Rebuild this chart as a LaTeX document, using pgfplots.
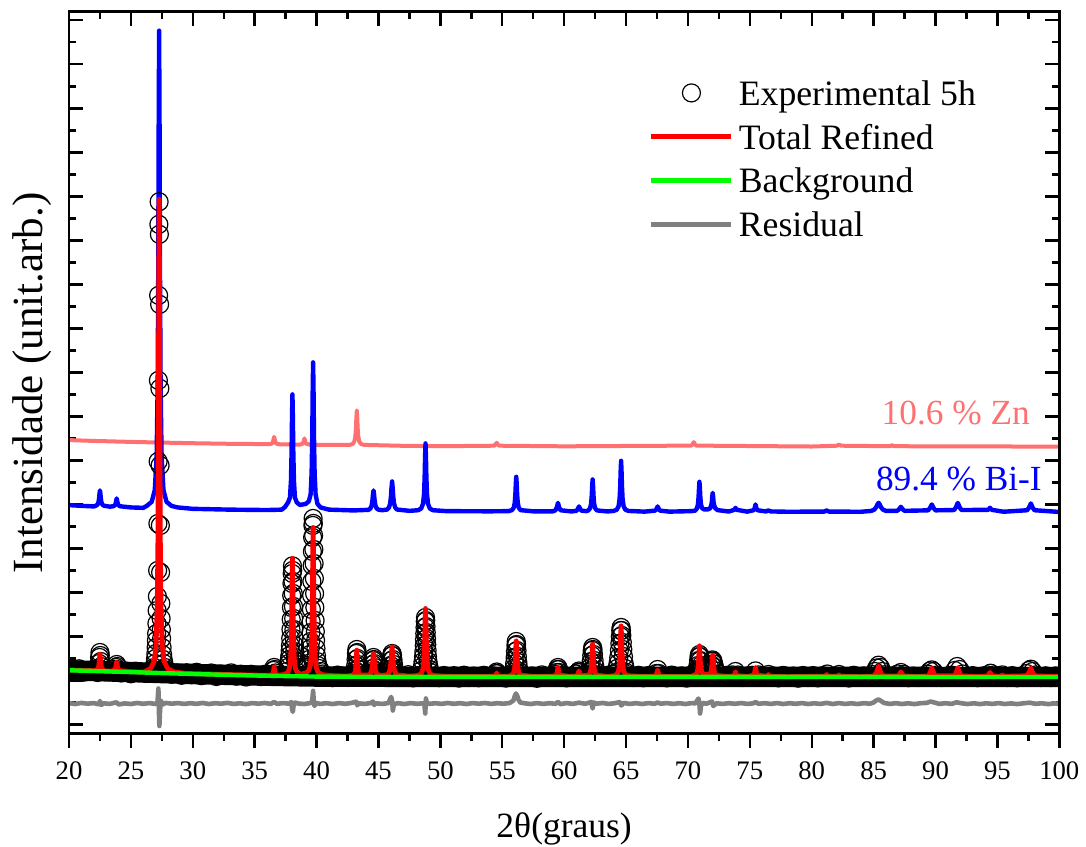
\documentclass[border=0pt]{standalone}
\usepackage{fontspec}
\setmainfont{Liberation Serif}
\usepackage{pgfplots}
\usepackage{pgfplotstable}
\pgfplotsset{compat=1.18}
\definecolor{znc}{RGB}{255,112,112}
\definecolor{bgreen}{RGB}{0,255,0}
\definecolor{bblue}{RGB}{0,0,255}
\definecolor{rgray}{RGB}{128,128,128}
\pgfplotsset{
  linelegend/.style={legend image code/.code={\draw[##1] (0pt,0pt) -- (40pt,0pt);}},
  circlelegend/.style={legend image code/.code={\draw[##1] plot coordinates {(20pt,0pt)};}},
}

\pgfplotstableread{
x y
20.0 64.4
20.4 62.3
20.8 64.7
21.2 61.3
21.6 62.9
22.0 63.9
22.3 61.0
22.40 64.5
22.44 70
22.47 76
22.50 81
22.53 78
22.56 72
22.60 67
22.66 63.5
22.9 62.8
23.3 61.6
23.6 63.9
23.76 62.8
23.80 66
23.85 69
23.90 67
23.95 63.8
24.2 60.5
24.6 62.4
25.0 59.7
25.4 62.3
25.8 61.3
26.2 60.0
26.5 62.4
26.65 62
26.8 63.5
26.88 66
26.95 70
26.99 75
27.02 80
27.04 86
27.06 93
27.08 100
27.10 110
27.12 123
27.14 137
27.16 163
27.18 210
27.20 272
27.22 353
27.24 438
27.26 509
27.28 531.6
27.30 499
27.32 429
27.34 345
27.36 268
27.38 208
27.40 161
27.42 130
27.44 115
27.46 104
27.48 95
27.52 86
27.56 79
27.61 74
27.67 70
27.75 66
27.85 63.5
28.0 62
28.3 59.3
28.7 60.6
29.1 58.2
29.5 60.7
29.9 58.7
30.3 61.2
30.7 57.8
31.1 59.5
31.5 60.5
31.9 57.0
32.3 59.4
32.7 58.3
33.1 60.6
33.5 57.3
33.9 59.2
34.3 56.5
34.7 59.2
35.1 58.2
35.5 56.9
35.9 59.4
36.2 57.1
36.45 59
36.52 63
36.57 66
36.62 64
36.68 60.5
36.9 57.6
37.2 58.4
37.45 57.8
37.6 62
37.7 66
37.76 70
37.80 74
37.84 78
37.87 83
37.89 88
37.91 95
37.93 104
37.95 114
37.97 126
37.99 138
38.01 150
38.03 160
38.05 167.6
38.07 163
38.09 152
38.11 140
38.13 127
38.15 115
38.17 104
38.19 95
38.21 88
38.24 82
38.28 76
38.33 72
38.40 69
38.5 66
38.65 64
38.8 63.5
38.95 65
39.05 66
39.15 66.5
39.25 68
39.33 70
39.40 74
39.45 79
39.49 85
39.52 92
39.54 101
39.56 112
39.58 124
39.60 138
39.62 152
39.64 168
39.66 182
39.68 196
39.70 208
39.72 215
39.74 210
39.76 198
39.78 184
39.80 170
39.82 155
39.84 140
39.86 126
39.88 113
39.90 102
39.92 93
39.95 85
39.99 78
40.04 72
40.10 68
40.2 65
40.35 62
40.5 59.5
40.9 57.6
41.3 55.8
41.7 58.4
42.1 57.4
42.5 56.0
42.85 58.0
43.05 60
43.12 63
43.16 68
43.19 74
43.22 80
43.25 84
43.28 81
43.31 75
43.34 69
43.38 64
43.45 60
43.7 57.3
44.0 58.6
44.3 59.5
44.45 62
44.50 65
44.54 69
44.57 73
44.60 76
44.63 74
44.66 70
44.70 66
44.76 62
44.9 60
45.1 59
45.35 61
45.6 60
45.85 61
45.92 64
45.98 68
46.03 73
46.07 78
46.10 80
46.13 78
46.17 74
46.22 69
46.28 64
46.35 61
46.6 58.3
47.0 56.4
47.4 58.8
47.8 55.6
48.2 57.9
48.48 63
48.55 67
48.60 72
48.64 77
48.67 82
48.70 88
48.72 94
48.74 100
48.76 106
48.78 112
48.80 116
48.82 113
48.84 107
48.86 101
48.88 95
48.90 89
48.93 83
48.96 77
49.00 72
49.05 68
49.12 64
49.2 61
49.5 57.5
49.9 55.8
50.3 58.0
50.7 56.6
51.1 57.8
51.5 55.4
51.9 58.3
52.3 56.0
52.7 57.4
53.1 55.7
53.5 58.2
53.9 56.6
54.3 57.6
54.5 60
54.55 61.5
54.6 60
54.9 57.2
55.3 55.4
55.6 58
55.88 61
55.95 65
56.00 70
56.04 76
56.07 82
56.10 88
56.13 92
56.16 89
56.19 83
56.22 77
56.26 71
56.31 66
56.38 62
56.6 58.9
57.0 56.1
57.4 57.5
57.8 55.2
58.2 58.6
58.6 56.2
59.0 57.9
59.3 59
59.4 61
59.45 64
59.5 66
59.55 64
59.6 61
59.8 58.4
60.2 55.6
60.6 57.3
60.95 59.5
61.15 61
61.2 62.5
61.25 61
61.5 58.5
61.85 59.5
62.05 62
62.12 66
62.18 72
62.23 78
62.27 83
62.30 86
62.33 84
62.37 79
62.42 73
62.48 67
62.55 62
62.75 58.6
63.1 56.1
63.5 58.2
63.9 57.3
64.1 59.5
64.18 61
64.27 65
64.35 70
64.41 76
64.46 83
64.50 90
64.54 97
64.57 103
64.60 106
64.63 103
64.66 98
64.70 91
64.74 84
64.79 77
64.85 70
64.93 65
65.02 61
65.2 58.7
65.6 56.0
66.0 58.2
66.4 55.7
66.8 57.9
67.2 56.5
67.45 60
67.55 64
67.65 60
67.9 57.0
68.3 55.6
68.7 58.4
69.1 56.3
69.5 57.6
69.9 55.4
70.2 58.0
70.45 59.5
70.6 61
70.75 64
70.81 68
70.86 73
70.90 77
70.93 79
70.96 77
71.00 73
71.05 68
71.12 65
71.25 63
71.45 63.5
71.6 64.5
71.75 66.5
71.85 69
71.92 72
71.97 73.6
72.02 72.5
72.08 69.5
72.15 66
72.25 62.5
72.45 59.5
72.8 57.0
73.2 58.3
73.6 58.6
73.84 62
74.05 58.5
74.4 56.0
74.8 57.6
75.2 58.2
75.46 62.6
75.7 58.6
76.0 56.4
76.5 59
76.9 57.5
77.3 55.6
77.7 58.1
78.1 56.8
78.5 57.4
78.9 55.3
79.3 58.0
79.7 56.0
80.1 57.9
80.5 55.6
80.9 57.8
81.25 59.5
81.6 56.8
81.9 57.5
82.2 59
82.6 56.4
83.0 55.5
83.4 58.2
83.8 56.3
84.2 57.6
84.6 56.5
84.9 59
85.1 62
85.25 65.5
85.4 68.3
85.55 66
85.7 62
85.9 58.8
86.2 56.2
86.6 57.8
86.95 59.5
87.2 61
87.45 59
87.8 55.8
88.2 57.4
88.6 56.0
89.0 57.6
89.35 59.5
89.55 62.5
89.7 63.6
89.85 62
90.1 58.5
90.5 56.0
90.9 57.4
91.3 58.4
91.55 63
91.75 67
91.95 64
92.2 59.5
92.6 56.2
93.0 57.9
93.4 55.8
93.8 57.5
94.2 58.5
94.45 60.3
94.7 58.5
95.1 57.3
95.4 58.6
95.8 56.0
96.2 57.9
96.6 55.7
97.0 57.6
97.35 60
97.55 63
97.7 64.3
97.85 62
98.1 58.6
98.5 56.0
98.9 57.7
99.3 55.9
99.7 57.6
100.0 56.8
}\expdata

\pgfplotstableread{
x y
20 63.5
21 63.1
22.0 62.8
22.25 63.6
22.35 65.2
22.40 67.3
22.44 71.2
22.47 76.0
22.50 79.3
22.53 76.0
22.56 71.2
22.60 67.3
22.65 65.2
22.75 63.6
22.9 62.5
23.5 62.3
23.75 64.9
23.79 67.2
23.82 69.8
23.85 71.6
23.88 69.8
23.91 67.2
23.95 64.9
24.1 62.9
25 61.8
26 61.3
26.58 64.8
26.88 72.0
27.03 87.3
27.13 127.2
27.18 187.4
27.22 298.4
27.25 440.4
27.28 534
27.31 440.4
27.34 298.4
27.38 187.4
27.43 127.2
27.53 87.3
27.68 72.0
27.98 64.8
28.5 61.5
29.5 60.0
31 59.5
33 58.9
35 58.4
36.0 58.1
36.35 58.5
36.47 59.8
36.52 62.3
36.57 66.6
36.62 62.3
36.67 59.8
36.8 58.4
37.3 58.7
37.65 60.5
37.80 64.5
37.90 74.5
37.95 89.4
37.99 116.8
38.02 151.6
38.05 175
38.08 151.6
38.11 116.8
38.15 89.4
38.20 74.5
38.30 64.5
38.45 60.8
38.7 59.5
38.9 59.5
39.0 60.5
39.1 60.2
39.32 62.2
39.47 66.5
39.57 78.6
39.62 97.5
39.66 132.2
39.69 176.4
39.72 206
39.75 176.4
39.78 132.2
39.82 97.5
39.87 78.6
39.97 65.9
40.12 60.9
40.5 58.7
41.5 57.7
42.5 57.4
43.0 58.6
43.10 60.9
43.15 64.3
43.19 70.4
43.22 78.1
43.25 83.3
43.28 78.1
43.31 70.4
43.35 64.3
43.40 60.9
43.5 58.6
44.2 58.4
44.35 59.9
44.45 63.4
44.51 68.7
44.55 74.6
44.60 80
44.65 74.6
44.69 68.7
44.75 63.4
44.85 59.9
45.0 58.5
45.3 58.0
45.7 58.7
45.85 60.7
45.95 65.2
46.01 72.1
46.05 79.7
46.10 86.6
46.15 79.7
46.19 72.1
46.25 65.2
46.35 60.7
46.5 58.7
47.5 57.3
48.2 58.0
48.45 59.8
48.60 64.7
48.68 74.8
48.73 91.4
48.765 111.5
48.80 125
48.835 111.5
48.87 91.4
48.92 74.8
49.00 64.7
49.15 59.8
49.4 58.0
50.5 57.1
53.5 57.0
54.4 57.2
54.5 58.4
54.55 60.6
54.6 58.4
54.7 57.3
55.5 57.3
55.78 58.4
55.93 61.0
56.01 66.4
56.06 75.1
56.095 85.6
56.13 92.6
56.165 85.6
56.20 75.1
56.25 66.4
56.33 61.0
56.48 58.4
57.5 57.0
59.1 57.2
59.35 58.3
59.44 61.3
59.50 66
59.56 61.3
59.65 58.3
60.5 57.0
61.05 57.6
61.20 62.5
61.35 57.6
61.95 58.3
62.10 60.6
62.18 65.4
62.23 73.4
62.265 82.9
62.30 89.3
62.335 82.9
62.37 73.4
62.42 65.4
62.50 60.6
62.65 58.3
63.5 57.0
64.0 57.7
64.25 59.0
64.40 62.7
64.48 70.2
64.53 82.6
64.565 97.6
64.60 107.6
64.635 97.6
64.67 82.6
64.72 70.2
64.80 62.7
64.95 59.0
65.2 57.7
66.5 56.9
67.4 57.3
67.55 63.3
67.7 57.3
68.5 56.9
70.3 57.1
70.47 58.2
70.58 58.5
70.73 60.6
70.81 65.0
70.86 72.5
70.895 81.5
70.93 87.6
70.965 81.5
71.00 72.5
71.05 65.2
71.13 61.0
71.3 59.2
71.6 59.0
71.8 59.5
71.88 62.4
71.93 67.7
71.965 73.9
72.00 78.3
72.035 73.9
72.07 67.7
72.12 62.4
72.20 59.3
72.40 57.9
73.3 57.0
73.75 57.9
73.84 61.6
73.93 57.9
74.8 57.0
75.35 58.4
75.46 66
75.57 58.4
76.4 57.2
76.5 59
76.6 57.2
78 56.8
81.1 57.3
81.2 59
81.3 57.3
82.1 57.2
82.2 58.5
82.3 57.2
84.0 56.8
85.0 57.4
85.2 60
85.32 64
85.40 67.3
85.48 64
85.60 60
85.80 57.4
87.0 57.6
87.2 61.6
87.4 57.6
88.5 56.8
89.45 57.7
89.60 62
89.70 65.6
89.80 62
89.95 57.7
91.55 57.7
91.70 62
91.80 65.6
91.90 62
92.05 57.7
93.5 56.8
94.2 57.5
94.4 61
94.6 57.5
95.2 57.2
95.4 58.3
95.6 57.2
97.4 57.7
97.6 62
97.7 65.6
97.8 62
98.0 57.7
100 56.8
}\reddata

\pgfplotstableread{
x y
20 63.2
22.5 62.3
25 61.4
27.5 60.4
30 59.5
32.5 58.7
35 58.0
37.5 57.4
40 56.9
42.5 56.8
45 56.7
50 56.6
70 56.6
100 56.5
}\bgdata

\pgfplotstableread{
x y
20 228.3
21 227.6
22.0 227.0
22.15 227.6
22.30 228.7
22.38 231.1
22.43 235
22.465 239.8
22.50 243
22.535 239.8
22.57 235
22.62 231.1
22.70 228.7
22.85 227.6
23.3 226.8
23.60 227.2
23.73 228.6
23.78 230.7
23.85 235
23.92 230.7
23.97 228.6
24.10 227.2
25 226.0
26.0 225.6
26.28 227.5
26.68 231.6
26.93 243.3
27.08 277.2
27.16 346.5
27.21 463.9
27.245 607.1
27.28 702.6
27.315 607.1
27.35 463.9
27.40 346.5
27.48 277.2
27.63 243.3
27.88 231.6
28.28 227.5
28.78 226.0
30 224.6
33 223.8
36 223.4
37.2 223.8
37.45 226.5
37.70 231
37.85 235.9
37.93 252.7
37.98 281.2
38.015 315.9
38.05 339
38.085 315.9
38.12 281.2
38.17 252.7
38.25 235.9
38.40 231
38.65 228.5
38.9 229
39.12 229.5
39.37 232
39.52 239.1
39.60 260.6
39.65 297
39.685 341.4
39.72 371
39.755 341.4
39.79 297
39.84 260.6
39.92 239.1
40.07 229.6
40.32 226
41 223.8
43 223
44.2 223.6
44.35 225
44.45 228
44.51 232.8
44.55 238.2
44.60 243
44.65 238.2
44.69 232.8
44.75 228
44.85 225
45.0 223.8
45.3 223.2
45.70 223.9
45.85 225.9
45.95 230.3
46.01 237.3
46.05 245
46.10 252
46.15 245
46.19 237.3
46.25 230.3
46.35 225.9
46.50 223.9
47.5 222.6
48.2 223.2
48.45 224.9
48.60 229.7
48.68 239.5
48.73 256.2
48.765 276.5
48.80 290
48.835 276.5
48.87 256.2
48.92 239.5
49.00 229.7
49.15 224.9
49.4 223.2
50.5 222.3
54 222.1
55.5 222.3
55.78 223.3
55.93 225.8
56.01 230.8
56.06 239.3
56.095 249.7
56.13 256.6
56.165 249.7
56.20 239.3
56.25 230.8
56.33 225.8
56.48 223.3
57.5 222.1
59.1 222.1
59.30 223.2
59.41 226.3
59.50 230.6
59.59 226.3
59.70 223.2
60.6 222.0
61.0 222.6
61.1 224.4
61.2 227
61.3 224.4
61.4 222.8
61.8 222.3
61.95 223
62.10 225.3
62.18 230
62.23 237.9
62.265 247.6
62.30 254
62.335 247.6
62.37 237.9
62.42 230
62.50 225.3
62.65 223
63.5 222.0
64.0 222.5
64.25 223.7
64.40 227.3
64.48 234.7
64.53 247.2
64.565 262.4
64.60 272.6
64.635 262.4
64.67 247.2
64.72 234.7
64.80 227.3
64.95 223.7
65.2 222.5
66.5 221.8
67.35 222.8
67.45 224.3
67.55 227
67.65 224.3
67.75 222.8
68.5 221.8
70.3 222.3
70.58 222.8
70.73 225
70.81 229.3
70.86 236.6
70.895 245.6
70.93 251.6
70.965 245.6
71.00 236.6
71.05 229.3
71.13 225.5
71.3 224
71.6 224
71.8 225.2
71.88 228.3
71.93 231.2
71.965 236.8
72.00 240.6
72.035 236.8
72.07 231.2
72.12 228.3
72.20 225.2
72.40 223.3
73.3 221.9
73.74 223.6
73.84 225.6
73.94 223.6
74.8 221.8
75.31 223.2
75.39 225.3
75.46 229
75.53 225.3
75.61 223.2
76.3 222
76.5 223
76.7 222
78 221.7
81.0 221.8
81.2 223
81.4 221.8
84.0 221.7
84.8 222.5
85.05 223.8
85.2 226.1
85.3 228.8
85.4 230.6
85.5 228.8
85.6 226.1
85.75 223.8
86.0 222.5
86.9 222.6
87.05 224.1
87.2 226.6
87.35 224.1
87.5 222.6
89.4 223.1
89.55 225.3
89.7 229
89.85 225.3
90.0 223.1
91.5 223.4
91.65 226.1
91.8 230.6
91.95 226.1
92.1 223.4
94.25 223.6
94.4 225.6
94.55 223.6
95.5 221.7
97.4 223.2
97.55 225.7
97.7 230
97.85 225.7
98.0 223.2
100 221.5
}\bidata

\pgfplotstableread{
x y
20 293.3
22 292.5
25 291.5
28 290.7
30 290.2
33 289.6
36.0 289.3
36.27 289.3
36.42 290.1
36.50 292.8
36.57 296.6
36.64 292.8
36.72 290.1
36.87 289.2
38.6 288.7
38.87 289.6
38.95 291.8
39.02 295
39.09 291.8
39.17 289.6
39.5 288.6
42.65 288.5
42.9 289.3
43.05 291.8
43.13 296.9
43.18 305.5
43.215 316
43.25 323
43.285 316
43.32 305.5
43.37 296.9
43.45 291.8
43.6 289.3
43.85 288.5
47 287.6
50 287.2
54.35 287.7
54.45 288.8
54.55 290.6
54.65 288.8
54.75 287.7
60 287.1
70.27 287.8
70.37 289.1
70.47 291.3
70.57 289.1
70.67 287.8
80 286.9
82.05 287.7
82.2 289
82.35 287.7
86.35 287.2
86.5 288.2
86.65 287.2
100 286.8
}\zndata

\pgfplotstableread{
x y
20 30.3
20.5 29.5
21 30.6
21.5 29.8
22 30.4
22.4 29.2
22.5 32.5
22.6 28.5
22.8 30.2
23.3 29.6
23.85 31.2
24.0 29.0
24.5 30.1
25 29.5
25.5 30.5
26 29.7
26.5 30.4
27.0 29.5
27.15 31.5
27.22 45
27.27 20
27.30 7.5
27.35 22
27.42 33
27.55 29
27.8 30.6
28.3 29.8
28.8 30.4
29.3 29.6
29.8 30.3
30.3 29.7
30.8 30.5
31.3 29.5
31.8 30.3
32.3 29.8
32.8 30.6
33.3 29.6
33.8 30.2
34.3 29.4
34.8 30.4
35.3 29.8
35.8 30.5
36.3 29.6
36.57 31.5
36.8 29.7
37.3 30.4
37.8 29.8
37.95 31.5
38.02 25
38.08 21.6
38.14 28
38.25 31
38.5 30
39.0 29.5
39.4 30.2
39.62 31
39.68 37
39.72 42.6
39.77 33
39.83 27.5
39.95 30.5
40.3 29.6
40.8 30.3
41.3 29.5
41.8 30.4
42.3 29.7
42.8 30.5
43.2 31.8
43.28 28.2
43.4 30.1
43.9 29.6
44.4 30.5
44.55 32
44.65 28.5
44.8 30.2
45.3 29.6
45.8 30.4
46.02 36.6
46.1 33
46.16 23
46.25 29.5
46.6 30.3
47.1 29.5
47.6 30.4
48.1 29.7
48.6 30.2
48.72 28
48.78 20
48.83 35
48.9 31
49.1 29.6
49.6 30.3
50.1 29.6
50.6 30.5
51.1 29.7
51.6 30.3
52.1 29.5
52.6 30.4
53.1 29.8
53.6 30.5
54.1 29.6
54.6 30.3
55.1 29.8
55.6 30.5
55.9 33
56.0 37
56.1 40
56.2 38
56.3 34
56.45 31
56.8 30.2
57.3 29.5
57.8 30.4
58.3 29.6
58.8 30.3
59.3 29.7
59.5 31.5
59.7 29.4
60.2 30.4
60.7 29.6
61.2 30.8
61.7 29.7
62.2 31.5
62.3 25
62.4 31
62.6 29.8
63.1 30.5
63.6 29.6
64.1 30.3
64.5 31.5
64.62 28
64.8 30.5
65.3 29.6
65.8 30.3
66.3 29.5
66.8 30.4
67.3 29.7
67.55 31
67.8 29.8
68.3 30.4
68.8 29.6
69.3 30.3
69.8 29.5
70.3 30.4
70.6 30.1
70.85 35
70.92 31
70.98 20
71.06 28
71.2 30.5
71.5 29.8
71.95 32
72.05 27.5
72.3 30.2
72.8 29.6
73.3 30.3
73.8 29.7
74.3 30.4
74.8 29.6
75.3 30.2
75.46 31.5
75.7 29.7
76.2 30.3
76.7 29.6
77.2 30.4
77.7 29.5
78.2 30.3
78.7 29.7
79.2 30.4
79.7 29.5
80.2 30.2
80.7 29.6
81.2 30.6
81.7 29.5
82.2 30.4
82.7 29.6
83.2 30.2
83.7 29.5
84.2 30.3
84.7 29.8
85.0 31
85.2 33
85.4 34
85.6 32.5
85.85 30.5
86.3 29.6
86.8 30.3
87.3 29.5
87.8 30.2
88.3 29.4
88.8 30.3
89.3 30.6
89.6 32
89.9 31
90.3 29.6
90.8 30.3
91.3 29.6
91.7 31.2
92.1 30.2
92.6 29.5
93.1 30.2
93.6 29.4
94.1 30.2
94.6 29.6
95.1 30.4
95.6 29.5
96.1 30.1
96.6 29.4
97.1 30.2
97.6 30.8
98.1 29.7
98.6 30.2
99.1 29.4
99.6 30.1
100 29.6
}\resdata

\begin{document}
\begin{tikzpicture}
\begin{axis}[
  scale only axis, width=495pt, height=360.8pt,
  xmin=20, xmax=100, ymin=0, ymax=721.6,
  clip marker paths=true,
  xtick={20,25,...,100}, minor x tick num=1,
  ytick={9,53,...,713}, minor y tick num=1, yticklabels={},
  xtick pos=left, xtick align=outside,
  ytick pos=both, ytick align=inside,
  major tick length=7pt, minor tick length=3.5pt,
  axis line style={line width=1.3pt},
  every tick/.style={black, line width=1.2pt},
  /pgf/number format/assume math mode=true,
  tick label style={font=\fontsize{13.35}{16}\selectfont},
  xticklabel style={yshift=-3.5pt},
  xlabel={2θ(graus)},
  xlabel style={at={(axis description cs:0.5,-0.1441)}, anchor=base, font=\fontsize{17.75}{21}\selectfont},
  ylabel={Intensidade (unit.arb.)},
  ylabel style={at={(axis description cs:-0.0266,0.4855)}, anchor=base, font=\fontsize{21.5}{25}\selectfont},
  linelegend,
  legend style={draw=none, fill=none, at={(0.5857,0.9178)}, anchor=north west,
    inner sep=0pt, outer sep=0pt, row sep=0pt, column sep=2.5pt,
    cells={anchor=west},
    nodes={inner sep=0pt, text height=17.1pt, text depth=4.8pt},
    font=\fontsize{17.85}{21}\selectfont},
]
\addplot[forget plot, znc, line width=2pt, line join=round] table {\zndata};
\addplot[forget plot, bblue, line width=2.2pt, line join=round] table {\bidata};
% dense overlap of the many baseline circles: a solid band along the background
\addplot[forget plot, black, line width=10.2pt, line join=round] table {\bgdata};
\addplot[only marks, mark=o, mark size=4.5pt, mark options={line width=0.6pt, black},
  circlelegend] table {\expdata};
\addlegendentry{Experimental 5h}
\addplot[red, line width=2.4pt, line join=round] table {\reddata};
\addlegendentry{Total Refined}
\addplot[bgreen, line width=2.2pt, line join=round] table {\bgdata};
\addlegendentry{Background}
\addplot[rgray, line width=2.3pt, line join=round] table {\resdata};
\addlegendentry{Residual}
\node[anchor=base west, inner sep=0pt, text=znc, font=\fontsize{17.65}{21}\selectfont] at (axis cs:85.62,309) {10.6 \% Zn};
\node[anchor=base west, inner sep=0pt, text=bblue, font=\fontsize{17.65}{21}\selectfont] at (axis cs:85.16,243.3) {89.4 \% Bi-I};
\coordinate (bbsw) at (rel axis cs:-0.06968,-0.15618);
\coordinate (bbne) at (rel axis cs:1.02696,1.01621);
\end{axis}
\begin{axis}[
  scale only axis, width=495pt, height=360.8pt,
  xmin=20, xmax=100, ymin=0, ymax=721.6,
  xtick={20,25,...,100}, minor x tick num=1, xticklabels={},
  xtick pos=right, xtick align=inside,
  ytick=\empty,
  major tick length=7pt, minor tick length=3.5pt,
  axis line style={line width=1.3pt},
  every tick/.style={black, line width=1.2pt},
]
\end{axis}
\pgfresetboundingbox
\path[use as bounding box] (bbsw) rectangle (bbne);
\end{tikzpicture}
\end{document}
